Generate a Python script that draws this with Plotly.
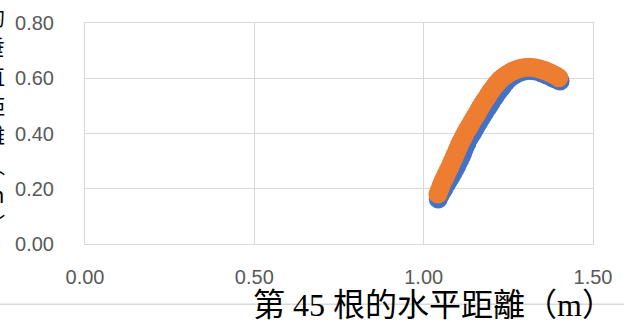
import plotly.graph_objects as go

# Series 1 (blue) and series 2 (orange): horizontal vs vertical distance of root 45
blue_x = [1.043, 1.048, 1.053, 1.059, 1.064, 1.070, 1.075, 1.081, 1.086, 1.091,
          1.097, 1.101, 1.106, 1.111, 1.115, 1.119, 1.123, 1.128, 1.132, 1.138,
          1.144, 1.150, 1.155, 1.161, 1.167, 1.173, 1.179, 1.185, 1.192, 1.198,
          1.204, 1.211, 1.217, 1.224, 1.231, 1.237, 1.244, 1.251, 1.259, 1.268,
          1.277, 1.287, 1.297, 1.307, 1.317, 1.327, 1.337, 1.347, 1.357, 1.366,
          1.375, 1.383, 1.391, 1.398, 1.403]
blue_y = [0.163, 0.175, 0.187, 0.199, 0.211, 0.222, 0.233, 0.244, 0.256, 0.268,
          0.280, 0.292, 0.304, 0.316, 0.328, 0.341, 0.353, 0.366, 0.379, 0.390,
          0.402, 0.414, 0.426, 0.438, 0.450, 0.462, 0.474, 0.486, 0.498, 0.510,
          0.522, 0.534, 0.546, 0.557, 0.567, 0.578, 0.588, 0.597, 0.605, 0.612,
          0.618, 0.623, 0.626, 0.628, 0.628, 0.627, 0.624, 0.620, 0.615, 0.610,
          0.605, 0.600, 0.596, 0.593, 0.590]

orange_x = [1.042, 1.046, 1.050, 1.054, 1.058, 1.063, 1.067, 1.072, 1.077, 1.081,
            1.085, 1.090, 1.094, 1.098, 1.102, 1.106, 1.111, 1.116, 1.121, 1.126,
            1.132, 1.138, 1.143, 1.149, 1.155, 1.160, 1.165, 1.170, 1.176, 1.182,
            1.188, 1.194, 1.200, 1.207, 1.214, 1.221, 1.228, 1.236, 1.244, 1.253,
            1.262, 1.271, 1.281, 1.291, 1.301, 1.311, 1.321, 1.331, 1.341, 1.351,
            1.360, 1.369, 1.378, 1.386, 1.393, 1.399]
orange_y = [0.181, 0.193, 0.206, 0.218, 0.230, 0.242, 0.253, 0.265, 0.277, 0.289,
            0.301, 0.313, 0.325, 0.337, 0.348, 0.360, 0.372, 0.384, 0.396, 0.408,
            0.420, 0.432, 0.444, 0.456, 0.467, 0.478, 0.489, 0.500, 0.511, 0.522,
            0.533, 0.545, 0.556, 0.567, 0.578, 0.588, 0.597, 0.605, 0.612, 0.619,
            0.625, 0.630, 0.634, 0.637, 0.639, 0.640, 0.639, 0.637, 0.634, 0.631,
            0.627, 0.622, 0.617, 0.612, 0.607, 0.602]

x_ticks = [0.0, 0.5, 1.0, 1.5]
x_tick_text = ["0.00", "0.50", "1.00", "1.50"]
y_ticks = [0.0, 0.2, 0.4, 0.6, 0.8]
y_tick_text = ["0.00", "0.20", "0.40", "0.60", "0.80"]

x_title = "第 45 根的水平距離（m）"
y_title_chars = ["第", "45", "根", "的", "垂", "直", "距", "離", "︵", "m", "︶"]

GRID = "#d9d9d9"
TICK_FONT = dict(family="Liberation Sans, Arial, sans-serif", size=20, color="#595959")
CJK = "Noto Sans CJK TC"

# plot-area geometry in pixels, used to place the free-standing titles
W, H = 624, 325
L, R, T, B = 85, 28, 20, 81
PW, PH = W - L - R, H - T - B


def px_to_paper(px, py):
    return (px - L) / PW, 1 - (py - T) / PH


fig = go.Figure()
fig.add_trace(go.Scatter(
    x=blue_x, y=blue_y, mode="markers",
    marker=dict(size=19, color="#4472C4", line=dict(width=0)),
    showlegend=False, hoverinfo="skip",
))
fig.add_trace(go.Scatter(
    x=orange_x, y=orange_y, mode="markers",
    marker=dict(size=19, color="#ED7D31", line=dict(width=0)),
    showlegend=False, hoverinfo="skip",
))

fig.update_xaxes(
    range=[0, 1.5], tickvals=x_ticks, ticktext=x_tick_text,
    showgrid=True, gridcolor=GRID, gridwidth=1, zeroline=False,
    showline=True, linecolor=GRID, linewidth=1, mirror=True,
    ticks="", tickfont=TICK_FONT, ticklabelstandoff=15,
)
fig.update_yaxes(
    range=[0, 0.8], tickvals=y_ticks, ticktext=y_tick_text,
    showgrid=True, gridcolor=GRID, gridwidth=1, zeroline=False,
    showline=True, linecolor=GRID, linewidth=1, mirror=True,
    ticks="", tickfont=TICK_FONT, ticklabelstandoff=26,
)

# chart-area border running under the horizontal axis title
_, line_y = px_to_paper(0, 305)
fig.add_shape(type="line", xref="paper", yref="paper",
              x0=-0.2, x1=1.1, y0=line_y, y1=line_y,
              line=dict(color=GRID, width=1.5), layer="below")

tx, ty = px_to_paper(436, 306)
fig.add_annotation(
    text=x_title, xref="paper", yref="paper", x=tx, y=ty,
    xanchor="center", yanchor="middle", showarrow=False,
    font=dict(family=f"Liberation Serif, {CJK}, serif", size=32, color="#000000"),
)

# stacked vertical title of the value axis, one glyph per row
for i, ch in enumerate(y_title_chars):
    ax, ay = px_to_paper(-6.5, 13 + (i - 3) * 30)
    fig.add_annotation(
        text=ch, xref="paper", yref="paper", x=ax, y=ay,
        xanchor="center", yanchor="middle", showarrow=False,
        font=dict(family=f"{CJK}, sans-serif", size=21, color="#000000"),
    )

fig.update_layout(
    width=W, height=H,
    margin=dict(l=L, r=R, t=T, b=B),
    paper_bgcolor="#ffffff", plot_bgcolor="#ffffff",
)

fig.write_html("out.html")
